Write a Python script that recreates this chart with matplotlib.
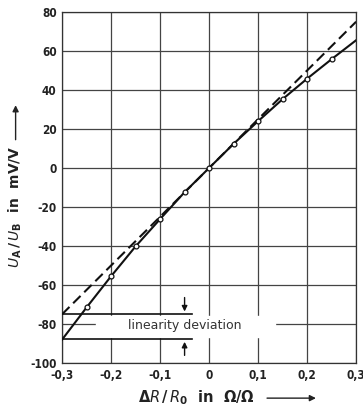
import numpy as np
import matplotlib
matplotlib.use('Agg')
import matplotlib.pyplot as plt
from matplotlib.patches import Rectangle, FancyArrowPatch

# relative resistance change and bridge output (mV/V)
dr = [-0.3, -0.25, -0.2, -0.15, -0.1, -0.05, 0.0, 0.05, 0.1, 0.15, 0.2, 0.25, 0.3]
u_meas = [-88, -71.5, -55.5, -40.2, -26.2, -12.4, 0, 12.4, 24.0, 35.3, 45.8, 55.8, 65.5]
dr_lin = [-0.3, 0.3]
u_lin = [-75, 75]

xticks = [-0.3, -0.2, -0.1, 0, 0.1, 0.2, 0.3]
xlabels = ['-0,3', '-0,2', '-0,1', '0', '0,1', '0,2', '0,3']
yticks = [-100, -80, -60, -40, -20, 0, 20, 40, 60, 80]
ylabels = ['-100', '-80', '-60', '-40', '-20', '0', '20', '40', '60', '80']

plt.rcParams['mathtext.fontset'] = 'dejavusans'

fig = plt.figure(figsize=(3.63, 4.13), dpi=100)
ax = fig.add_axes([0.171, 0.121, 0.81, 0.85])

ax.set_xlim(-0.3, 0.3)
ax.set_ylim(-100, 80)
ax.set_xticks(xticks)
ax.set_xticklabels(xlabels)
ax.set_yticks(yticks)
ax.set_yticklabels(ylabels)
ax.tick_params(length=0, labelsize=8.5, colors='#222222', pad=4)
for lab in ax.get_xticklabels() + ax.get_yticklabels():
    lab.set_fontweight('bold')
    lab.set_fontstretch('condensed')
ax.grid(True, color='#444444', lw=0.9)
for s in ax.spines.values():
    s.set_color('#333333')
    s.set_linewidth(0.9)

# ideal line and measured curve
ax.plot(dr_lin, u_lin, color='#111111', lw=1.5, ls=(0, (5, 2.5)), zorder=3)
ax.plot(dr, u_meas, color='#111111', lw=1.5, zorder=3)
ax.plot(dr[1:-1], u_meas[1:-1], 'o', ms=3.5, mfc='white', mec='#111111', mew=0.9, zorder=4)

# linearity deviation annotation
ax.add_patch(Rectangle((-0.23, -86.6), 0.365, 10.6, color='white', zorder=2.5))
ax.plot([-0.3, -0.035], [-75, -75], color='#111111', lw=1.2, zorder=3)
ax.plot([-0.3, -0.035], [-87.7, -87.7], color='#111111', lw=1.2, zorder=3)
ax.text(-0.05, -81, 'linearity deviation', ha='center', va='center', fontsize=9,
        color='#333333', zorder=4)
ax.annotate('', xy=(-0.05, -75), xytext=(-0.05, -65),
            arrowprops=dict(arrowstyle='-|>', color='#111111', lw=1, mutation_scale=8))
ax.annotate('', xy=(-0.05, -87.7), xytext=(-0.05, -97.5),
            arrowprops=dict(arrowstyle='-|>', color='#111111', lw=1, mutation_scale=8))

# axis titles with arrows
fig.text(0.043, 0.5, r'$\mathbf{\mathit{U}_A\,/\,\mathit{U}_B}$  in  mV/V', rotation=90,
         ha='center', va='center', fontsize=10, fontweight='bold', color='#222222')
fig.text(0.54, 0.036, r'$\mathbf{\Delta\mathit{R}\,/\,\mathit{R}_0}$  in  $\mathbf{\Omega/\Omega}$',
         ha='center', va='center', fontsize=10.5, fontweight='bold', color='#222222')
fig.patches.append(FancyArrowPatch((0.043, 0.655), (0.043, 0.752),
                   transform=fig.transFigure, arrowstyle='-|>', mutation_scale=9,
                   color='#222222', lw=1))
fig.patches.append(FancyArrowPatch((0.728, 0.036), (0.878, 0.036),
                   transform=fig.transFigure, arrowstyle='-|>', mutation_scale=9,
                   color='#222222', lw=1))

fig.savefig('out.png', dpi=100)
